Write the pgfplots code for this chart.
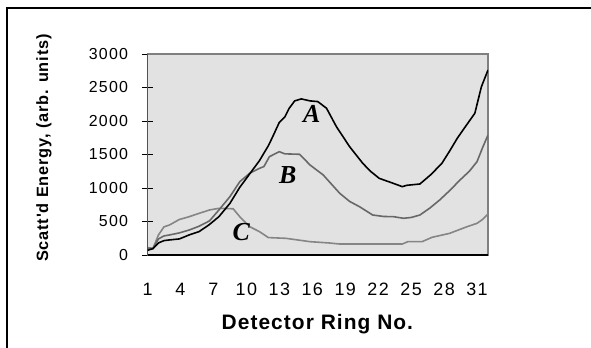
\documentclass[border=0pt]{standalone}
\usepackage{fontspec}
\setmainfont{Liberation Sans}
\newfontfamily\tickfont[LetterSpace=8]{Liberation Sans}
\newfontfamily\labfont[LetterSpace=5]{Liberation Sans}
\newfontfamily\serifbi{Liberation Serif}
\usepackage{pgfplots}
\pgfplotsset{compat=1.18}
\definecolor{bgray}{HTML}{E2E2E2}
\definecolor{lineB}{HTML}{686868}
\definecolor{lineC}{HTML}{858585}
\definecolor{frameg}{HTML}{808080}
\begin{document}
\begin{tikzpicture}[x=1bp,y=1bp]
\useasboundingbox (0,0) rectangle (591,347);
\draw[line width=2.4bp,black] (7.2,-5) -- (7.2,339.2) -- (600,339.2);
\begin{axis}[
  at={(147.5bp,92bp)}, anchor=south west,
  scale only axis, width=340.5bp, height=201bp,
  xmin=1, xmax=32, ymin=0, ymax=3000,
  xtick={1,4,...,31}, ytick={0,500,...,3000},
  axis background/.style={fill=bgray},
  axis line style={draw=frameg, line width=1.2bp},
  ytick pos=left, xtick pos=bottom,
  tick align=center,
  major tick length=11bp,
  major tick style={black, line width=1bp},
  x tick style={draw=none},
  yticklabel style={font=\tickfont\fontsize{16}{16}\selectfont, inner sep=0pt, anchor=east, xshift=-13.7bp},
  xticklabel style={font=\tickfont\fontsize{18}{18}\selectfont, inner sep=0pt, anchor=north, yshift=-22bp},
  /pgf/number format/assume math mode=true,
  scaled y ticks=false,
  yticklabel={\pgfmathprintnumber[fixed,1000 sep={}]{\tick}},
  xlabel={Detector Ring No.},
  ylabel={Scatt'd Energy, (arb. units)},
  xlabel style={font=\labfont\bfseries\fontsize{21}{21}\selectfont, at={(axis description cs:0.499,-0.373)}, anchor=base, inner sep=0pt},
  ylabel style={font=\labfont\bfseries\fontsize{16.4}{16.4}\selectfont, at={(axis description cs:-0.304,0.532)}, anchor=center, inner sep=0pt},
  clip=true,
]
\addplot[lineC, line width=1.6bp] coordinates {
(1,110) (1.5,100) (2,300) (2.5,420) (3,448) (3.9,530) (4.8,572) (5.7,622) (6.65,672) (7.5,697) (8.8,690) (9.4,572) (10.3,423) (11.2,348) (12,260) (13.6,249) (15.8,199) (17.5,180) (18.5,164) (20.3,164) (24.2,164) (24.7,199) (26,199) (26.9,264) (28.5,323) (30.1,423) (31,473) (31.5,530) (32,612)
};
\addplot[lineB, line width=1.6bp] coordinates {
(1,100) (1.5,100) (2,240) (2.5,285) (3,299) (3.9,330) (4.8,373) (5.7,430) (6.65,510) (7.5,672) (8.5,870) (9.4,1094) (10.3,1220) (11.2,1294) (11.6,1320) (12.1,1468) (13,1542) (13.5,1510) (14.85,1503) (15.8,1343) (17,1194) (18.5,921) (19.4,800) (20.3,721) (21.5,597) (22.5,575) (23.4,572) (24.3,548) (25,560) (25.8,597) (26.7,700) (27.6,821) (28.5,960) (29.45,1119) (30.3,1250) (31,1393) (31.5,1600) (32,1791)
};
\addplot[black, line width=1.6bp] coordinates {
(1,70) (1.5,95) (2,180) (2.5,215) (3,225) (3.9,240) (4.8,300) (5.7,350) (6.6,450) (7.5,572) (8.5,770) (9.4,1010) (10.3,1210) (11.2,1410) (11.5,1493) (12,1630) (12.4,1766) (13,1980) (13.5,2060) (13.9,2190) (14.4,2300) (15,2330) (15.8,2300) (16.5,2290) (17.3,2190) (18.2,1915) (19.4,1617) (20.6,1368) (21.3,1250) (22.1,1144) (23.2,1080) (24.2,1020) (24.6,1040) (25.8,1060) (26.8,1200) (27.8,1368) (28.5,1550) (29.2,1742) (30,1930) (30.8,2115) (31.4,2512) (32,2761)
};
\draw[black, line width=1.4bp] (rel axis cs:0,1) -- (rel axis cs:0,0) -- (rel axis cs:1,0);
\node[font=\serifbi\bfseries\itshape\fontsize{26}{26}\selectfont, inner sep=0pt] at (axis cs:15.95,2104) {A};
\node[font=\serifbi\bfseries\itshape\fontsize{26}{26}\selectfont, inner sep=0pt] at (axis cs:13.76,1194) {B};
\node[font=\serifbi\bfseries\itshape\fontsize{26}{26}\selectfont, inner sep=0pt] at (axis cs:9.53,348) {C};
\end{axis}
\end{tikzpicture}
\end{document}
